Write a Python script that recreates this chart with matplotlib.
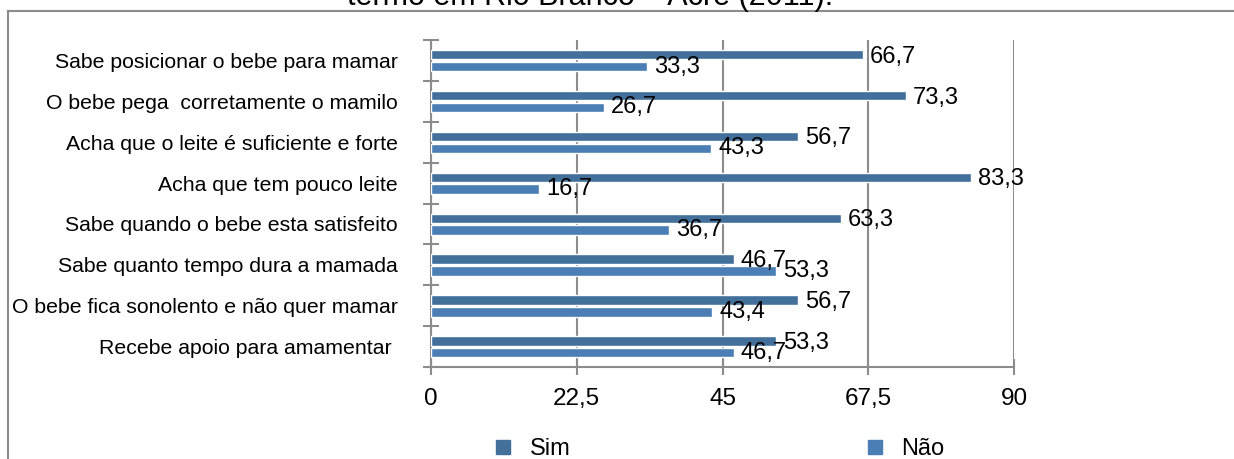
import numpy as np
import matplotlib.pyplot as plt
from matplotlib.lines import Line2D

plt.rcParams['font.family'] = ['Liberation Sans', 'DejaVu Sans']

# categories, top to bottom
categories = ['Sabe posicionar o bebe para mamar',
              'O bebe pega  corretamente o mamilo',
              'Acha que o leite é suficiente e forte',
              'Acha que tem pouco leite',
              'Sabe quando o bebe esta satisfeito',
              'Sabe quanto tempo dura a mamada',
              'O bebe fica sonolento e não quer mamar',
              'Recebe apoio para amamentar ']
sim = [66.7, 73.3, 56.7, 83.3, 63.3, 46.7, 56.7, 53.3]
nao = [33.3, 26.7, 43.3, 16.7, 36.7, 53.3, 43.4, 46.7]
xticks = [0, 22.5, 45, 67.5, 90]
xtick_labels = ['0', '22,5', '45', '67,5', '90']

col_sim = '#436F9B'
col_nao = '#4A7EB5'
grey = '#8C8C8C'

W, H = 1234, 459
fig = plt.figure(figsize=(W / 100, H / 100), dpi=100)
ax = fig.add_axes([431 / W, 1 - 367 / H, (1014 - 431) / W, (367 - 40) / H])

y = np.arange(len(categories))
bh = 0.23
ax.barh(y - 0.14, sim, height=bh, color=col_sim, edgecolor='white', linewidth=1, zorder=3)
ax.barh(y + 0.15, nao, height=bh, color=col_nao, edgecolor='white', linewidth=1, zorder=3)

def fmt(v):
    return ('%.1f' % v).replace('.', ',')

for yi, v in zip(y, sim):
    ax.annotate(fmt(v), (v, yi - 0.14), xytext=(7, -2), textcoords='offset pixels',
                ha='left', va='center', fontsize=17, zorder=4)
for yi, v in zip(y, nao):
    ax.annotate(fmt(v), (v, yi + 0.15), xytext=(7, 0), textcoords='offset pixels',
                ha='left', va='center', fontsize=17, zorder=4)

ax.set_xlim(0, 90)
ax.set_ylim(len(categories) - 0.5, -0.5)
ax.set_xticks(xticks)
ax.set_xticklabels(xtick_labels, fontsize=17.5)
ax.set_yticks(y)
ax.set_yticklabels(categories, fontsize=15.3)
ax.set_yticks(np.arange(len(categories) + 1) - 0.5, minor=True)
ax.tick_params(axis='y', which='major', length=0, pad=24)
ax.tick_params(axis='y', which='minor', length=12, direction='inout', color=grey, width=1.5)
ax.tick_params(axis='x', length=12, direction='inout', color=grey, width=1.5, pad=9)
ax.xaxis.grid(True, color=grey, linewidth=1.5, zorder=0)
ax.set_axisbelow(True)
for s in ['top', 'right']:
    ax.spines[s].set_visible(False)
for s in ['left', 'bottom']:
    ax.spines[s].set_color(grey)
    ax.spines[s].set_linewidth(1.5)

# outer frame (top and left edges visible)
fig.add_artist(Line2D([8 / W, 1], [1 - 11 / H, 1 - 11 / H], color=grey, linewidth=1.5))
fig.add_artist(Line2D([8 / W, 8 / W], [0, 1 - 11 / H], color=grey, linewidth=1.5))

# title, cut at the top edge
fig.text(590 / W, 1 - 5.5 / H, 'termo em Rio Branco – Acre (2011).', ha='center',
         va='baseline', fontsize=22)

handles = [Line2D([], [], marker='s', linestyle='none', color=col_sim, markersize=9.5),
           Line2D([], [], marker='s', linestyle='none', color=col_nao, markersize=9.5)]
fig.legend(handles, ['Sim', 'Não'], loc='center left', bbox_to_anchor=(494 / W, 1 - 449 / H),
           ncol=2, frameon=False, fontsize=17, borderpad=0, borderaxespad=0,
           handlelength=0.8, handletextpad=0.7, columnspacing=12.5)

fig.savefig('out.png', dpi=100)
